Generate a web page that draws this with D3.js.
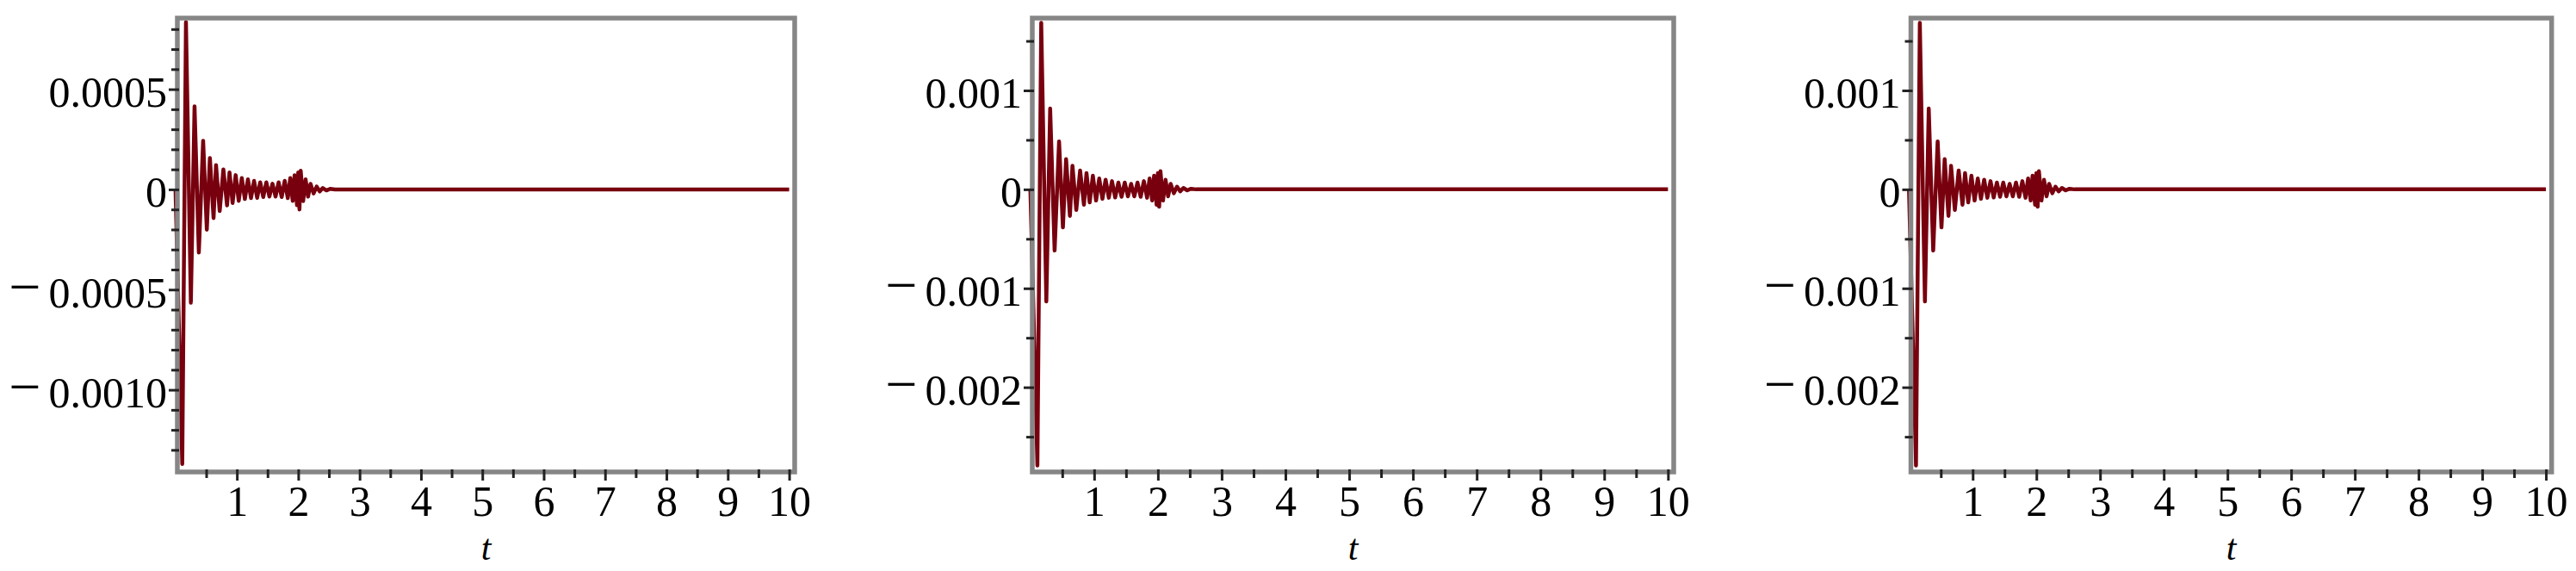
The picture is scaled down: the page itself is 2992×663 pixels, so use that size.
<!DOCTYPE html>
<html><head><meta charset="utf-8">
<script src="https://cdn.jsdelivr.net/npm/d3@7"></script>
<style>html,body{margin:0;padding:0;background:#fff;} svg{display:block;}</style>
</head><body>
<svg id="chart" width="2992" height="663"></svg>
<script>
// ---- data ----
const times = [0.00,0.11,0.17,0.25,0.31,0.38,0.45,0.51,0.56,0.62,
  0.66,0.72,0.78,0.84,0.88,0.93,0.98,1.03,1.08,1.13,
  1.18,1.23,1.28,1.33,1.38,1.43,1.48,1.53,1.58,1.63,
  1.68,1.73,1.78,1.83,1.87,1.91,1.94,1.98,2.00,2.02,
  2.04,2.08,2.12,2.16,2.20,2.25,2.30,2.35,2.40,2.46,
  2.52,2.60,10.00];
const valuesA = [0,-0.00137,0.000835,-0.000565,0.000414,-0.000315,0.000243,-0.000201,0.000157,-0.000143,
  0.000121,-0.000108,0.0000996,-0.0000794,0.000085,-0.0000675,0.0000712,-0.0000575,0.0000566,-0.000048,
  0.0000498,-0.0000433,0.0000425,-0.000042,0.0000352,-0.000038,0.0000352,-0.000036,0.0000283,-0.000036,
  0.0000352,-0.000038,0.0000425,-0.0000433,0.0000566,-0.0000575,0.000071,-0.000079,0.000085,-0.0001,
  0.000093,-0.000058,0.00005,-0.000036,0.000028,-0.00002,0.000014,-0.00001,0.000007,-0.000005,
  0.000003,0,0];
const valuesB = [0,-0.00279,0.001684,-0.001132,0.000816,-0.000618,0.000485,-0.000385,0.000305,-0.000268,
  0.000239,-0.000208,0.00019,-0.000155,0.000165,-0.000132,0.000138,-0.000113,0.00011,-0.000095,
  0.000097,-0.000085,0.000083,-0.000082,0.000069,-0.000075,0.000069,-0.000071,0.000056,-0.000071,
  0.000069,-0.000075,0.000083,-0.000085,0.00011,-0.000113,0.000138,-0.000155,0.000165,-0.000176,
  0.000184,-0.000113,0.000097,-0.00007,0.000055,-0.000039,0.000027,-0.00002,0.000014,-0.00001,
  0.000006,0,0];
const valuesC = [0,-0.00279,0.001684,-0.001132,0.000816,-0.000618,0.000485,-0.000385,0.000305,-0.000268,
  0.000239,-0.000208,0.00019,-0.000155,0.000165,-0.000132,0.000138,-0.000113,0.00011,-0.000095,
  0.000097,-0.000085,0.000083,-0.000082,0.000069,-0.000075,0.000069,-0.000071,0.000056,-0.000071,
  0.000069,-0.000075,0.000083,-0.000085,0.00011,-0.000113,0.000138,-0.000155,0.000165,-0.000176,
  0.000184,-0.000113,0.000097,-0.00007,0.000055,-0.000039,0.000027,-0.00002,0.000014,-0.00001,
  0.000006,0,0];

const xDomain = [0.03, 10.09];
const xTicks = [1,2,3,4,5,6,7,8,9,10];
const xTickLabels = ["1","2","3","4","5","6","7","8","9","10"];
const xMinorTicks = [0.5,1.5,2.5,3.5,4.5,5.5,6.5,7.5,8.5,9.5];
const xAxisTitle = "t";

const yDomainA = [-0.00141, 0.000855];
const yTicksA = [0.0005, 0, -0.0005, -0.0010];
const yTickLabelsA = ["0.0005","0","-0.0005","-0.0010"];
const yMinorA = [0.0008,0.0007,0.0006,0.0004,0.0003,0.0002,0.0001,-0.0001,-0.0002,-0.0003,-0.0004,-0.0006,-0.0007,-0.0008,-0.0009,-0.0011,-0.0012,-0.0013];

const yDomainB = [-0.002856, 0.001731];
const yTicksB = [0.001, 0, -0.001, -0.002];
const yTickLabelsB = ["0.001","0","-0.001","-0.002"];
const yMinorB = [0.0015,0.0005,-0.0005,-0.0015,-0.0025];

const yDomainC = [-0.002856, 0.001731];
const yTicksC = [0.001, 0, -0.001, -0.002];
const yTickLabelsC = ["0.001","0","-0.001","-0.002"];
const yMinorC = [0.0015,0.0005,-0.0005,-0.0015,-0.0025];

// ---- layout ----
const TOP = 21, BOTTOM = 548;
const FONT = "'Liberation Serif','Times New Roman',serif";
const LINE_COLOR = "#78000E";
const panels = [
  {left:206, right:923, values:valuesA, yDomain:yDomainA, yTicks:yTicksA, yLabels:yTickLabelsA, yMinor:yMinorA},
  {left:1199, right:1944, values:valuesB, yDomain:yDomainB, yTicks:yTicksB, yLabels:yTickLabelsB, yMinor:yMinorB},
  {left:2219.5, right:2963.7, values:valuesC, yDomain:yDomainC, yTicks:yTicksC, yLabels:yTickLabelsC, yMinor:yMinorC}
];

const svg = d3.select("#chart");
svg.append("rect").attr("width",2992).attr("height",663).attr("fill","#fff");

function styleAxis(g){
  g.select(".domain").remove();
  g.attr("font-family", FONT).attr("font-size", 50).attr("color", "#000");
  g.selectAll(".tick line").attr("stroke", "#222").attr("stroke-width", 3);
}

panels.forEach(p => {
  const x = d3.scaleLinear().domain(xDomain).range([p.left, p.right]);
  const y = d3.scaleLinear().domain(p.yDomain).range([BOTTOM, TOP]);
  const g = svg.append("g");

  const line = d3.line().x(d => x(d[0])).y(d => y(d[1]));
  g.append("path")
    .datum(d3.zip(times, p.values))
    .attr("d", line)
    .attr("fill", "none")
    .attr("stroke", LINE_COLOR)
    .attr("stroke-width", 4.5)
    .attr("stroke-linejoin", "round");

  g.append("rect")
    .attr("x", p.left).attr("y", TOP)
    .attr("width", p.right - p.left).attr("height", BOTTOM - TOP)
    .attr("fill", "none").attr("stroke", "#868686").attr("stroke-width", 5.5);

  // y axis
  const yMinorG = g.append("g").attr("transform", `translate(${p.left + 2},0)`)
    .call(d3.axisLeft(y).tickValues(p.yMinor).tickSize(9).tickFormat(""));
  styleAxis(yMinorG);
  const yMajorG = g.append("g").attr("transform", `translate(${p.left + 2},0)`)
    .call(d3.axisLeft(y).tickValues(p.yTicks).tickSize(12).tickPadding(2)
      .tickFormat(d => p.yLabels[p.yTicks.indexOf(d)]));
  styleAxis(yMajorG);
  yMajorG.selectAll(".tick text").each(function(d){
    const s = p.yLabels[p.yTicks.indexOf(d)];
    const t = d3.select(this).text(null).attr("dy", null).attr("y", 20);
    if (s.startsWith("-")) {
      t.append("tspan").attr("font-size", 66).attr("dy", -2).text("\u2212");
      t.append("tspan").attr("dx", 9).attr("dy", 2).text(s.slice(1));
    } else {
      t.text(s);
    }
  });

  // x axis
  const xMinorG = g.append("g").attr("transform", `translate(0,${BOTTOM - 3})`)
    .call(d3.axisBottom(x).tickValues(xMinorTicks).tickSize(10).tickFormat(""));
  styleAxis(xMinorG);
  const xMajorG = g.append("g").attr("transform", `translate(0,${BOTTOM - 3})`)
    .call(d3.axisBottom(x).tickValues(xTicks).tickSize(13)
      .tickFormat(d => xTickLabels[xTicks.indexOf(d)]));
  styleAxis(xMajorG);
  xMajorG.selectAll(".tick text").attr("dy", null).attr("y", 54);

  g.append("text")
    .attr("x", (p.left + p.right) / 2).attr("y", 650)
    .attr("text-anchor", "middle")
    .attr("font-family", FONT).attr("font-style", "italic").attr("font-size", 42)
    .text(xAxisTitle);
});
</script>
</body></html>
